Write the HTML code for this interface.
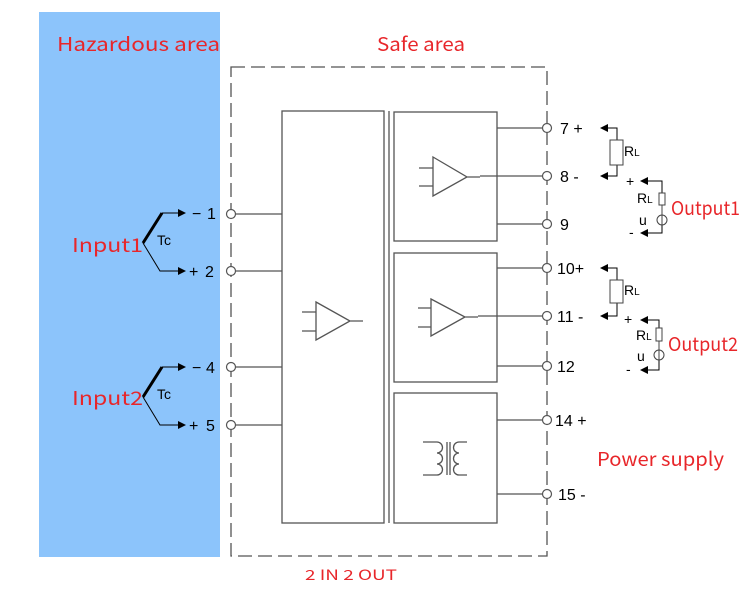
<!DOCTYPE html>
<html><head><meta charset="utf-8"><style>
body{margin:0;background:#fff}
svg text{font-family:"Liberation Sans",Arial,sans-serif}
.r text{fill:#e8262a;font-family:"Noto Sans CJK SC","Liberation Sans",sans-serif}
</style></head><body>
<svg width="750" height="592" viewBox="0 0 750 592" xmlns="http://www.w3.org/2000/svg">
<defs><marker id="a" markerWidth="8" markerHeight="8" refX="7" refY="4" orient="auto" markerUnits="userSpaceOnUse"><path d="M0,0 L8,4 L0,8z" fill="#000"/></marker></defs>
<rect x="39" y="12" width="181" height="545" fill="#8cc4fb"/>
<g fill="none" stroke="#555" stroke-width="1.3">
<rect x="231" y="67" width="316" height="489" stroke-dasharray="14,6"/>
<rect x="282" y="111" width="102" height="412"/>
<line x1="389" y1="111" x2="389" y2="523"/>
<rect x="394" y="112" width="103" height="129"/>
<rect x="394" y="253" width="103" height="129"/>
<rect x="394" y="393" width="103" height="130"/>
<path d="M231 214H282M231 271H282M231 367H282M231 425H282"/>
<path d="M497 128H547M480 176H547M497 224H547M497 268H547M478 316H547M497 366H547M497 420H547M497 494H547"/>
<path d="M433 157L467 177L433 196ZM419 168H433M419 186H433M467 177H480"/>
<path d="M431 299L465 317L431 336ZM418 308H431M418 327H431M465 317H478"/>
<path d="M316 302L350 321L316 340ZM302 312H316M302 331H316M350 321H363"/>
<path d="M423 442H437M423 475H437M437 442a4,4 0 0 1 0,11a4,4 0 0 1 0,11a4,4 0 0 1 0,11M447 442v33M450 442v33M467 442H459M467 475H459M459 442a4,4 0 0 0 0,11a4,4 0 0 0 0,11a4,4 0 0 0 0,11"/>
</g>
<g fill="#fff" stroke="#555" stroke-width="1.2">
<circle cx="231" cy="214" r="4.5"/><circle cx="231" cy="271" r="4.5"/><circle cx="231" cy="367" r="4.5"/><circle cx="231" cy="425" r="4.5"/>
<circle cx="547" cy="128" r="4.5"/><circle cx="547" cy="176" r="4.5"/><circle cx="547" cy="224" r="4.5"/><circle cx="547" cy="268" r="4.5"/><circle cx="547" cy="316" r="4.5"/><circle cx="547" cy="366" r="4.5"/><circle cx="547" cy="420" r="4.5"/><circle cx="547" cy="494" r="4.5"/>
</g>
<g fill="none" stroke="#000">
<path d="M143 243L162 213" stroke-width="3"/>
<path d="M143 397L162 367" stroke-width="3"/>
<g stroke-width="1" marker-end="url(#a)">
<path d="M162 213H185"/><path d="M143 243L160 271H185"/>
<path d="M162 367H185"/><path d="M143 397L160 425H185"/>
<path d="M617 140V128H601"/><path d="M617 165V176H601"/>
<path d="M662 193V181H641"/><path d="M662 225V233H641"/>
<path d="M617 280V268H601"/><path d="M617 303V316H601"/>
<path d="M659 328V320H641"/><path d="M659 360V370H641"/>
</g>
</g>
<g font-size="16" fill="#000">
<text x="192" y="219">−</text><text x="207" y="219">1</text>
<text x="189" y="277">+</text><text x="205" y="277">2</text>
<text x="192" y="373">−</text><text x="206" y="373">4</text>
<text x="189" y="431">+</text><text x="206" y="431">5</text>
<text x="157" y="245" font-size="14">Tc</text><text x="157" y="399" font-size="14">Tc</text>
<text x="560" y="134">7 +</text><text x="560" y="182">8  -</text><text x="560" y="230">9</text>
<text x="557" y="274">10+</text><text x="557" y="322">11 -</text><text x="557" y="372">12</text>
<text x="555" y="426">14  +</text><text x="558" y="500">15  -</text>
</g>
<g fill="none" stroke="#444">
<rect x="610" y="140" width="13" height="25"/><rect x="659" y="193" width="6" height="12"/><path d="M662 205V215"/><circle cx="662" cy="220" r="5"/><path d="M662 215V225"/>
<rect x="610" y="280" width="13" height="23"/><rect x="656" y="328" width="6" height="13"/><path d="M659 341V350"/><circle cx="659" cy="355" r="5"/><path d="M659 350V360"/>
</g>
<g font-size="14" fill="#000">
<text x="624" y="156">R<tspan font-size="10">L</tspan></text>
<text x="637" y="203">R<tspan font-size="10">L</tspan></text>
<text x="626" y="186">+</text><text x="629" y="237">-</text><text x="639" y="225">u</text>
<text x="624" y="295">R<tspan font-size="10">L</tspan></text>
<text x="636" y="340">R<tspan font-size="10">L</tspan></text>
<text x="624" y="324">+</text><text x="626" y="374">-</text><text x="637" y="361">u</text>
</g>
<g class="r" font-size="19">
<text x="57" y="51" textLength="163" lengthAdjust="spacingAndGlyphs">Hazardous area</text>
<text x="377" y="51" textLength="88" lengthAdjust="spacingAndGlyphs">Safe area</text>
<text x="72" y="252" textLength="71" lengthAdjust="spacingAndGlyphs">Input1</text>
<text x="72" y="405" textLength="71" lengthAdjust="spacingAndGlyphs">Input2</text>
<text x="671" y="215" textLength="69" lengthAdjust="spacingAndGlyphs">Output1</text>
<text x="668" y="351" textLength="70" lengthAdjust="spacingAndGlyphs">Output2</text>
<text x="597" y="466" textLength="127" lengthAdjust="spacingAndGlyphs">Power supply</text>
<text x="305" y="580" font-size="14" textLength="92" lengthAdjust="spacingAndGlyphs">2 IN 2 OUT</text>
</g>
</svg>
</body></html>
